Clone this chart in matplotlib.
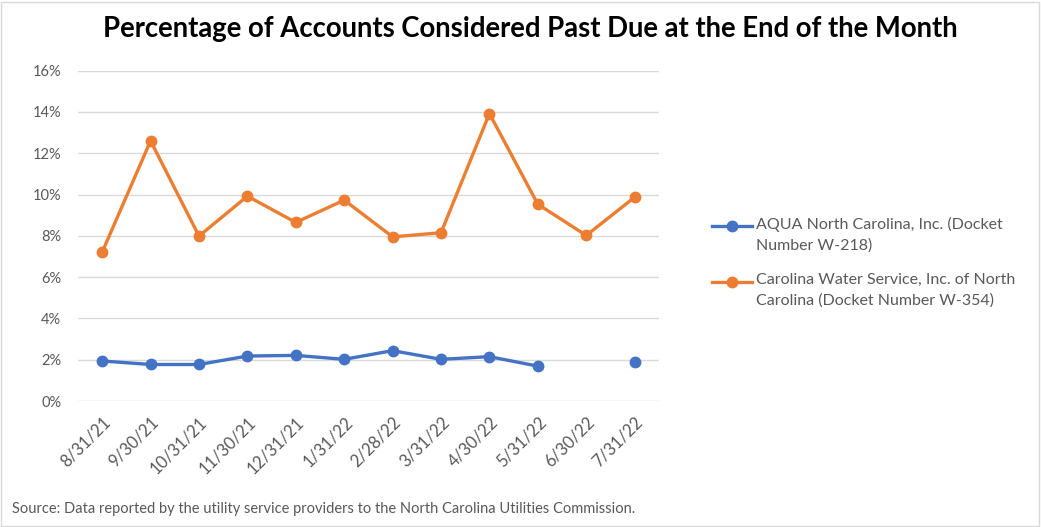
import matplotlib.pyplot as plt
from matplotlib.lines import Line2D
import numpy as np

plt.rcParams['font.family'] = ['Lato', 'DejaVu Sans']

dates = ['8/31/21', '9/30/21', '10/31/21', '11/30/21', '12/31/21', '1/31/22',
         '2/28/22', '3/31/22', '4/30/22', '5/31/22', '6/30/22', '7/31/22']
# percent past due, NaN = not reported
aqua = [1.94, 1.77, 1.77, 2.18, 2.21, 2.02, 2.44, 2.02, 2.15, 1.69, np.nan, 1.90]
carolina = [7.21, 12.6, 7.99, 9.92, 8.65, 9.73, 7.95, 8.15, 13.92, 9.53, 8.02, 9.87]

aqua_label = 'AQUA North Carolina, Inc. (Docket\nNumber W-218)'
carolina_label = 'Carolina Water Service, Inc. of North\nCarolina (Docket Number W-354)'

blue = '#4472C4'
orange = '#ED7D31'
gray = '#595959'
W, H = 1041, 527
fig = plt.figure(figsize=(W / 100, H / 100), dpi=100)
ax = fig.add_axes([0.0749, 0.239, 0.558, 0.627])

x = np.arange(len(dates))
ax.plot(x, np.array(aqua) / 100, color=blue, lw=2.4, marker='o', ms=7.5)
ax.plot(x, np.array(carolina) / 100, color=orange, lw=2.4, marker='o', ms=7.5)

ax.set_xlim(-0.5, len(dates) - 0.5)
ax.set_ylim(0, 0.16)
ax.set_yticks(np.arange(0, 0.161, 0.02))
ax.set_yticklabels([f'{int(round(v * 100))}%' for v in np.arange(0, 0.161, 0.02)])
ax.set_xticks(x)
ax.set_xticklabels(dates, rotation=45, ha='right', rotation_mode='anchor')
ax.tick_params(length=0, colors=gray)
ax.tick_params(axis='y', pad=12, labelsize=10.5)
ax.tick_params(axis='x', pad=9, labelsize=12)
ax.grid(axis='y', color='#D9D9D9', lw=1)
ax.set_axisbelow(True)
for s in ax.spines.values():
    s.set_visible(False)

# legend, Excel style: handle lined up with the first text line
for i, (col, lab) in enumerate([(blue, aqua_label), (orange, carolina_label)]):
    yc = 1 - (226 + 55.5 * i) / H
    fig.add_artist(Line2D([712 / W, 732 / W, 752 / W], [yc, yc, yc], transform=fig.transFigure,
                          color=col, lw=2.4, marker='o', ms=7.5, markevery=[1]))
    fig.text(756 / W, yc + 9 / H, lab, ha='left', va='top', fontsize=11.5,
             color=gray, linespacing=1.6)

fig.text(0.509, 0.945, 'Percentage of Accounts Considered Past Due at the End of the Month',
         ha='center', va='center', fontsize=19.8, fontweight='bold', color='black')
fig.text(0.012, 0.035, 'Source: Data reported by the utility service providers to the North Carolina Utilities Commission.',
         ha='left', va='center', fontsize=10.5, color=gray)

fig.add_artist(plt.Rectangle((0.001, 0.002), 0.997, 0.995, transform=fig.transFigure,
                             fill=False, edgecolor='#D9D9D9', lw=1))

fig.savefig('out.png', dpi=100)
